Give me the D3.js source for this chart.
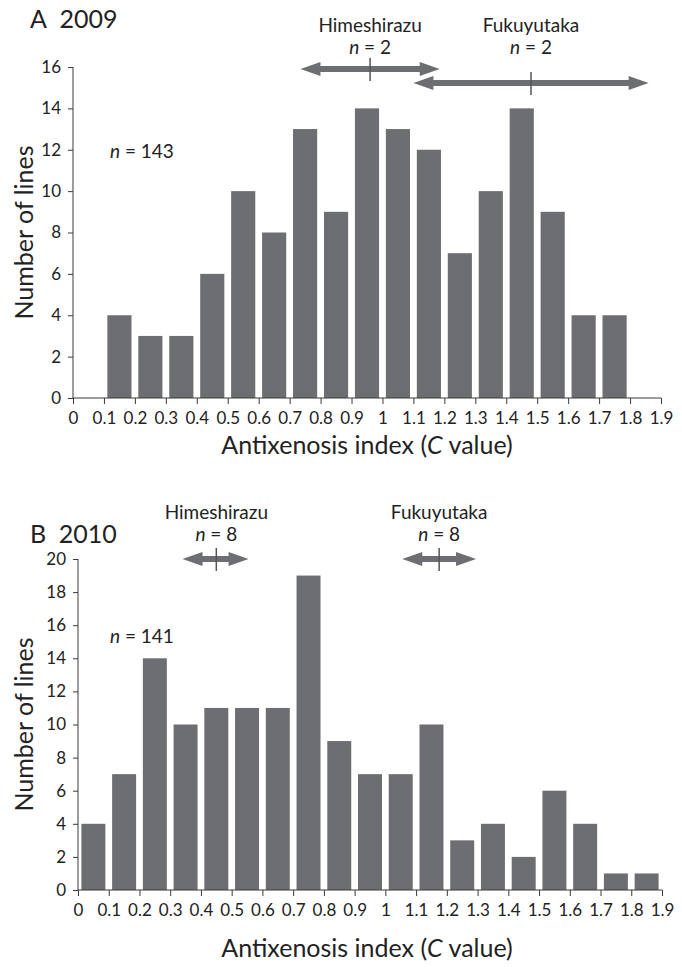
<!DOCTYPE html>
<html><head><meta charset="utf-8">
<script src="https://cdn.jsdelivr.net/npm/d3@7"></script>
<style>body{margin:0;background:#fff}svg{display:block}text{font-family:Lato,"Open Sans",sans-serif;fill:#222}</style>
</head><body>
<svg id="c" width="682" height="971"></svg>
<script>
// ---- data ----
const binTicks = [0,0.1,0.2,0.3,0.4,0.5,0.6,0.7,0.8,0.9,1,1.1,1.2,1.3,1.4,1.5,1.6,1.7,1.8,1.9];
const tickLabels = ["0","0.1","0.2","0.3","0.4","0.5","0.6","0.7","0.8","0.9","1","1.1","1.2","1.3","1.4","1.5","1.6","1.7","1.8","1.9"];
// 2009: bins starting at 0.1 .. 1.7
const bins2009 = [0.1,0.2,0.3,0.4,0.5,0.6,0.7,0.8,0.9,1.0,1.1,1.2,1.3,1.4,1.5,1.6,1.7];
const counts2009 = [4,3,3,6,10,8,13,9,14,13,12,7,10,14,9,4,4];
// 2010: bins starting at 0 .. 1.8
const bins2010 = [0,0.1,0.2,0.3,0.4,0.5,0.6,0.7,0.8,0.9,1.0,1.1,1.2,1.3,1.4,1.5,1.6,1.7,1.8];
const counts2010 = [4,7,14,10,11,11,11,19,9,7,7,10,3,4,2,6,4,1,1];
const yTicks2009 = [0,2,4,6,8,10,12,14,16];
const yTicks2010 = [0,2,4,6,8,10,12,14,16,18,20];
const cultivars = ["Himeshirazu","Fukuyutaka"];
const refN2009 = [2,2];
const refMean2009 = [0.96,1.48];
const refLow2009 = [0.735,1.10];
const refHigh2009 = [1.185,1.86];
const refN2010 = [8,8];
const refMean2010 = [0.45,1.175];
const refLow2010 = [0.34,1.055];
const refHigh2010 = [0.555,1.295];

const svg = d3.select("#c");
const barColor = "#6d6e71";
const axisColor = "#3a3a3a";

function panel(o){
  const g = svg.append("g");
  const x = d3.scaleLinear().domain([0,1.9]).range([o.x0,o.x1]);
  const y = d3.scaleLinear().domain([0,o.ymax]).range([o.y0,o.y1]);
  const step = x(0.1)-x(0);
  const pad = 0.11*step;
  // bars
  g.selectAll("rect.bar").data(o.bins.map((b,i)=>({b,c:o.counts[i]}))).enter()
    .append("rect").attr("x",d=>x(d.b)+pad).attr("width",step-2*pad)
    .attr("y",d=>y(d.c)).attr("height",d=>y(0)-y(d.c)).attr("fill",barColor);
  // x axis
  const xa = g.append("g").attr("transform",`translate(0,${y(0)})`)
    .call(d3.axisBottom(x).tickValues(binTicks).tickFormat((d,i)=>tickLabels[i]).tickSize(6).tickPadding(8));
  xa.select(".domain").attr("stroke",axisColor).attr("d",`M${x(0)},0H${x(1.9)}`);
  xa.selectAll(".tick line").attr("stroke",axisColor);
  xa.selectAll("text").attr("font-size",17).style("fill","#222");
  // y axis
  const ya = g.append("g").attr("transform",`translate(${x(0)},0)`)
    .call(d3.axisLeft(y).tickValues(o.yTicks).tickSize(5).tickPadding(7));
  ya.select(".domain").attr("stroke",axisColor).attr("d",`M0,${y(0)}V${y(o.ymax)}`);
  ya.selectAll(".tick line").attr("stroke",axisColor);
  ya.selectAll("text").attr("font-size",17).style("fill","#222");
  // labels
  g.append("text").attr("x",30).attr("y",o.titleY).attr("font-size",25).text(o.letter+"\u2002"+o.year);
  g.append("text").attr("transform",`translate(33,${(y(0)+y(o.ymax))/2}) rotate(-90)`)
    .attr("text-anchor","middle").attr("font-size",25).text("Number of lines");
  const xl = g.append("text").attr("x",367).attr("y",o.xlabY).attr("text-anchor","middle").attr("font-size",25);
  xl.append("tspan").text("Antixenosis index (");
  xl.append("tspan").attr("font-style","italic").text("C");
  xl.append("tspan").text(" value)");
  const nt = g.append("text").attr("x",110).attr("y",o.nY).attr("font-size",19);
  nt.append("tspan").attr("font-style","italic").text("n");
  nt.append("tspan").text(" = "+o.n);
  // reference arrows
  cultivars.forEach((name,i)=>{
    const m=x(o.mean[i]), lo=x(o.low[i]), hi=x(o.high[i]);
    const ay=o.arrowY[i];
    g.append("text").attr("x",m).attr("y",o.nameY).attr("text-anchor","middle").attr("font-size",19).text(name);
    const t = g.append("text").attr("x",m).attr("y",o.nameY+22).attr("text-anchor","middle").attr("font-size",19);
    t.append("tspan").attr("font-style","italic").text("n");
    t.append("tspan").text(" = "+o.refN[i]);
    const hl=20, hw=7, sw=3;
    const path = `M${lo},${ay} L${lo+hl},${ay-hw} L${lo+hl},${ay-sw} L${hi-hl},${ay-sw} L${hi-hl},${ay-hw} L${hi},${ay} L${hi-hl},${ay+hw} L${hi-hl},${ay+sw} L${lo+hl},${ay+sw} L${lo+hl},${ay+hw} Z`;
    g.append("path").attr("d",path).attr("fill",barColor);
    g.append("line").attr("x1",m).attr("x2",m).attr("y1",ay-11).attr("y2",ay+12)
      .attr("stroke","#555").attr("stroke-width",1.5);
  });
}

panel({x0:73,x1:661,y0:398,y1:67,ymax:16,yTicks:yTicks2009,bins:bins2009,counts:counts2009,
  letter:"A",year:"2009",titleY:28,xlabY:454,n:143,nY:158,
  refN:refN2009,mean:refMean2009,low:refLow2009,high:refHigh2009,arrowY:[69,83],nameY:32});
panel({x0:78,x1:662,y0:890,y1:559,ymax:20,yTicks:yTicks2010,bins:bins2010,counts:counts2010,
  letter:"B",year:"2010",titleY:543,xlabY:957,n:141,nY:643,
  refN:refN2010,mean:refMean2010,low:refLow2010,high:refHigh2010,arrowY:[559,559],nameY:519});
</script>
</body></html>
